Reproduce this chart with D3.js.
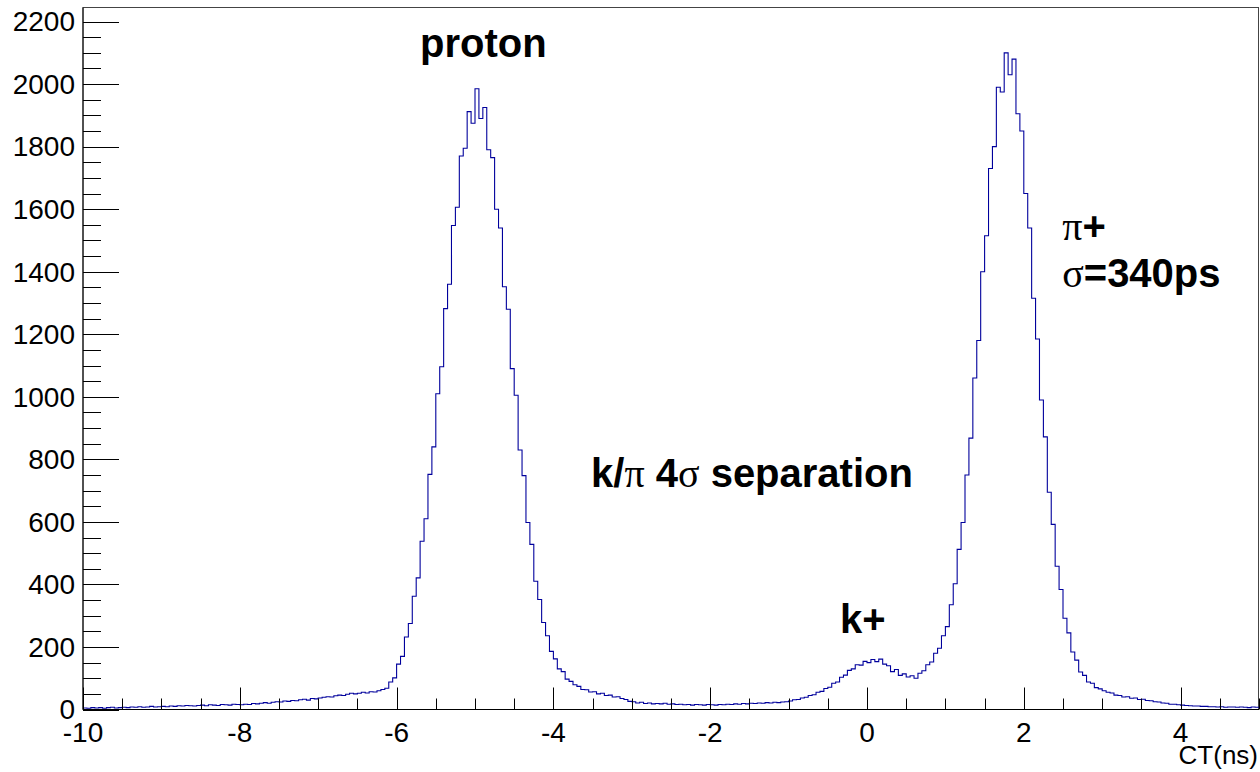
<!DOCTYPE html>
<html lang="en">
<head>
  <meta charset="UTF-8">
  <title>CT(ns) time-of-flight spectrum</title>
  <style>
    * {box-sizing: border-box;}
    html, body {
      margin: 0;
      padding: 0;
      background: #fff;
    }
    text { font-family: "Liberation Sans", Arial, Helvetica, sans-serif; }
    .greek { font-family: "Liberation Serif", "DejaVu Serif", serif; font-weight: normal; }
  </style>
</head>
<body>
  <svg id="chart"></svg>

  <script src="https://d3js.org/d3.v7.min.js"></script>
  <script>
    // histogram binning (ns)
    const binLow = -10
    const binWidth = 0.05
    // counts per bin
    const counts = [
      5, 4, 6, 5, 6, 4, 6, 7, 5, 6,
      7, 6, 8, 7, 9, 7, 8, 10, 8, 9,
      10, 9, 11, 10, 12, 11, 13, 12, 11, 13,
      14, 12, 15, 14, 13, 16, 15, 14, 17, 16,
      15, 17, 16, 19, 18, 20, 22, 20, 23, 25,
      24, 27, 26, 29, 28, 31, 33, 30, 35, 34,
      37, 39, 41, 40, 44, 46, 45, 49, 52, 50,
      52, 55, 53, 57, 56, 60,
      64, 68, 88, 101, 145, 170, 232, 275, 362, 421,
      538, 610, 752, 840, 1010, 1096, 1282, 1360, 1548, 1606,
      1770, 1795, 1912, 1875,
      1985, 1890, 1925, 1790, 1765, 1600, 1540, 1352, 1280, 1090,
      1005, 830, 748, 598, 528, 410, 352, 278, 236, 186,
      162, 130, 121, 97, 90,
      79, 74, 64, 63, 56, 57, 50, 52, 45, 46,
      40, 41, 35, 32, 26, 25, 21, 23, 19, 21, 18,
      19, 18, 20, 17, 18, 16, 17, 15, 16, 14,
      16, 15, 14, 16, 15, 14, 16, 15, 17, 16,
      18, 17, 19, 18, 20, 19, 21, 20, 22, 21,
      23, 22, 24, 25,
      27, 31, 32, 37, 39, 45, 47, 55, 58, 67,
      71, 84, 88, 103, 110, 125, 130, 143, 142, 154,
      150, 160, 153, 161, 145, 140, 121, 128, 109, 114,
      104, 108, 100, 116, 124, 143, 152, 180, 196, 236, 265,
      335, 402, 512, 598, 750, 868, 1060, 1180, 1400, 1515,
      1730, 1800, 1990, 1975, 2100, 2030, 2080, 1905, 1850, 1650,
      1540, 1315, 1185, 990, 872, 695, 592, 458, 384, 292,
      245, 184, 158, 120, 109, 88, 84, 70, 66,
      60, 55, 53, 46, 45, 40, 41, 36, 37, 32,
      33, 29, 28, 25, 24, 21, 20, 17, 17, 15,
      14, 13, 12, 11, 11, 10, 10, 9, 9, 8,
      9, 7, 8, 8, 7, 8, 7, 6, 8, 7
    ]
    const xDomain = [-10, 5]
    const yDomain = [0, 2245]
    const xTickValues = [-10, -8, -6, -4, -2, 0, 2, 4]
    const yTickValues = [0, 200, 400, 600, 800, 1000, 1200, 1400, 1600, 1800, 2000, 2200]
    const xTitle = 'CT(ns)'

    ;(function main () {
      const width = 1260
      const height = 772
      const pLeft = 83, pRight = 1259, pTop = 7.5, pBottom = 709.5

      const svg = d3.select('#chart')
        .attr('width', width)
        .attr('height', height)

      const x = d3.scaleLinear().domain(xDomain).range([pLeft, pRight])
      const y = d3.scaleLinear().domain(yDomain).range([pBottom, pTop])

      // frame
      svg.append('rect')
        .attr('x', pLeft).attr('y', pTop)
        .attr('width', pRight - pLeft - 0.5).attr('height', pBottom - pTop)
        .attr('fill', 'none').attr('stroke', '#444').attr('stroke-width', 1)

      // histogram as step line
      const pts = counts.map((c, i) => [binLow + i * binWidth, c])
      pts.push([binLow + counts.length * binWidth, counts[counts.length - 1]])

      svg.append('clipPath').attr('id', 'clip')
        .append('rect').attr('x', pLeft).attr('y', pTop)
        .attr('width', pRight - pLeft).attr('height', pBottom - pTop)

      svg.append('path')
        .datum(pts)
        .attr('clip-path', 'url(#clip)')
        .attr('fill', 'none')
        .attr('stroke', '#00009c')
        .attr('stroke-width', 1.1)
        .attr('d', d3.line().x(d => x(d[0])).y(d => y(d[1])).curve(d3.curveStepAfter))

      // x axis: major ticks every 2, minor every 0.5, drawn upward
      const xMinor = d3.range(-10, 5.001, 0.5).filter(v => !xTickValues.includes(v))
      const gx = svg.append('g').attr('transform', `translate(0,${pBottom})`)
      gx.append('line').attr('x1', pLeft).attr('x2', pRight).attr('stroke', '#000')
      gx.selectAll('.minor').data(xMinor).enter().append('line')
        .attr('x1', d => Math.round(x(d)) + 0.5).attr('x2', d => Math.round(x(d)) + 0.5)
        .attr('y1', 0).attr('y2', -11).attr('stroke', '#000')
      gx.selectAll('.major').data(xTickValues).enter().append('line')
        .attr('x1', d => Math.round(x(d)) + 0.5).attr('x2', d => Math.round(x(d)) + 0.5)
        .attr('y1', 0).attr('y2', -22).attr('stroke', '#000')
      gx.selectAll('text').data(xTickValues).enter().append('text')
        .attr('x', d => x(d)).attr('y', 32.5)
        .attr('text-anchor', 'middle')
        .attr('font-size', 28)
        .text(d => d)

      // y axis: major every 200, minor every 50, drawn rightward
      const yMinor = d3.range(0, 2245, 50).filter(v => !yTickValues.includes(v))
      const gy = svg.append('g').attr('transform', `translate(${pLeft},0)`)
      gy.append('line').attr('y1', pTop).attr('y2', pBottom).attr('stroke', '#000')
      gy.selectAll('.minor').data(yMinor).enter().append('line')
        .attr('y1', d => Math.round(y(d)) + 0.5).attr('y2', d => Math.round(y(d)) + 0.5)
        .attr('x1', 0).attr('x2', 18).attr('stroke', '#000')
      gy.selectAll('.major').data(yTickValues).enter().append('line')
        .attr('y1', d => Math.round(y(d)) + 0.5).attr('y2', d => Math.round(y(d)) + 0.5)
        .attr('x1', 0).attr('x2', 36).attr('stroke', '#000')
      gy.selectAll('text').data(yTickValues).enter().append('text')
        .attr('x', -8).attr('y', d => y(d))
        .attr('text-anchor', 'end')
        .attr('dy', '0.35em')
        .attr('font-size', 28)
        .text(d => d)

      svg.append('text')
        .attr('x', pRight - 1).attr('y', 764)
        .attr('text-anchor', 'end')
        .attr('font-size', 26)
        .text(xTitle)

      // annotations, anchored in data units
      function note (xv, yv, parts) {
        const t = svg.append('text')
          .attr('x', x(xv)).attr('y', y(yv))
          .attr('font-size', 40)
          .attr('font-weight', 'bold')
        parts.forEach(p => {
          t.append('tspan').attr('class', p[1] ? 'greek' : null).text(p[0])
        })
      }
      note(-5.70, 2088, [['proton']])
      note(2.49, 1502, [['π', true], ['+']])
      note(2.49, 1352, [['σ', true], ['=340ps']])
      note(-3.52, 712, [['k/'], ['π', true], [' 4'], ['σ', true], [' separation']])
      note(-0.345, 245, [['k+']])
    })()
  </script>
</body>
</html>
